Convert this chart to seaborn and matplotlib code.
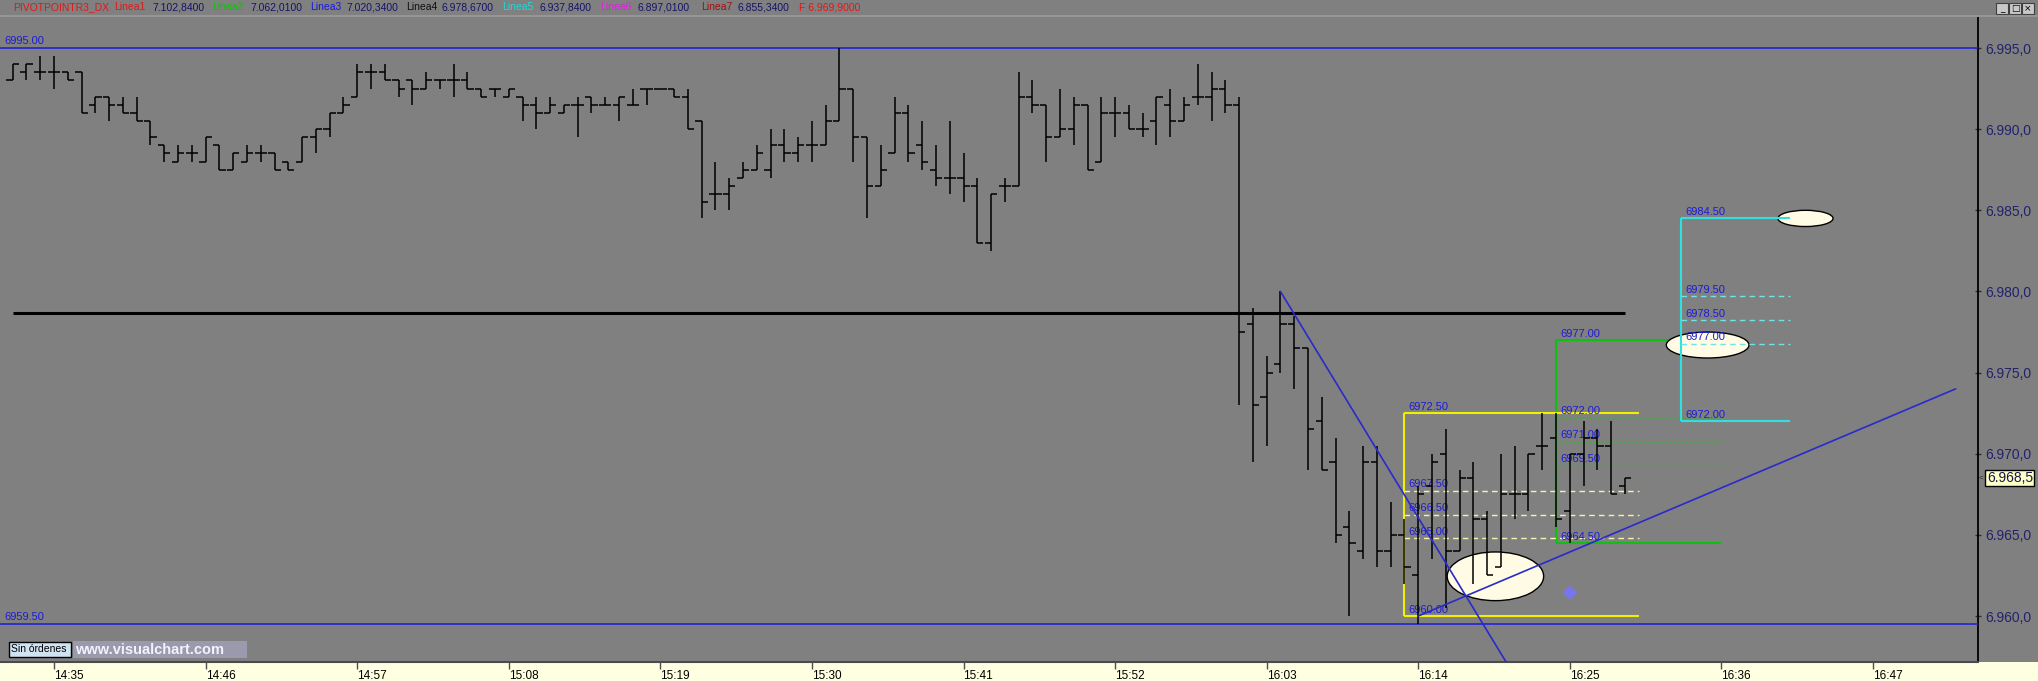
import pandas as pd
import seaborn as sns
import matplotlib.pyplot as plt
import matplotlib.dates as mdates
from matplotlib.patches import Ellipse, Rectangle
from matplotlib.lines import Line2D

# ---- data ---------------------------------------------------------------
first_bar = '2011-01-03 14:32'

bar_open = [6993, 6993.5, 6993.5, 6993.5, 6993.5, 6993.5, 6991.5, 6992, 6991.5, 6991,
            6990.5, 6989, 6988, 6988.5, 6988, 6989, 6987.5, 6988, 6988.5, 6988.5,
            6988, 6988, 6989.5, 6990, 6991, 6992, 6993.5, 6993.5, 6993, 6993,
            6992.5, 6993, 6993, 6993, 6992.5, 6992.5, 6992, 6992, 6991.5, 6991,
            6991, 6991.5, 6992, 6991.5, 6991.5, 6991.5, 6992.5, 6992.5, 6992.5, 6992,
            6990.5, 6986, 6986, 6987, 6987.5, 6987.5, 6989, 6988.5, 6989, 6989,
            6990.5, 6992.5, 6989.5, 6986.5, 6988.5, 6991, 6989, 6987.5, 6987, 6987,
            6986.5, 6983, 6986.5, 6986.5, 6992, 6991.5, 6989.5, 6990, 6991.5, 6988,
            6991, 6991, 6990, 6990.5, 6991.5, 6990.5, 6992, 6992, 6992.5, 6991.5,
            6978, 6973.5, 6975.5, 6978, 6976.5, 6972, 6969.5, 6965.5, 6964, 6969.5,
            6964, 6965, 6962.5, 6968, 6970, 6964, 6968.5, 6966, 6963, 6967.5,
            6967.5, 6970.5, 6971, 6966.5, 6970, 6971, 6970.5, 6968]
bar_high = [6994, 6994, 6994.5, 6994.5, 6993.5, 6993.5, 6992, 6992, 6992, 6992,
            6990.5, 6989, 6989, 6989, 6989.5, 6989, 6988.5, 6989, 6989, 6988.5,
            6988, 6989.5, 6990, 6991, 6992, 6994, 6994, 6994, 6993, 6993,
            6993.5, 6993, 6994, 6993.5, 6992.5, 6992.5, 6992.5, 6992, 6992, 6992,
            6991.5, 6992, 6992, 6992, 6992, 6992.5, 6992.5, 6992.5, 6992.5, 6992.5,
            6990.5, 6988, 6987, 6988, 6989, 6990, 6990, 6989.5, 6990.5, 6991.5,
            6995, 6992.5, 6989.5, 6989, 6992, 6991.5, 6990.5, 6989, 6990.5, 6988.5,
            6987, 6986, 6987, 6993.5, 6993, 6991.5, 6992.5, 6992, 6991.5, 6992,
            6992, 6991.5, 6991, 6992, 6992.5, 6992, 6994, 6993.5, 6993, 6992,
            6979, 6976, 6980, 6978.5, 6976.5, 6973.5, 6971, 6966.5, 6970.5, 6970.5,
            6967, 6966, 6968, 6970, 6971.5, 6969, 6969.5, 6966.5, 6970, 6970.5,
            6970, 6972.5, 6972.5, 6970, 6972, 6971.5, 6972, 6968.5]
bar_low = [6993, 6993, 6993, 6992.5, 6993, 6991, 6991, 6990.5, 6991, 6990.5,
           6989, 6988, 6988, 6988, 6988, 6987.5, 6987.5, 6988, 6988, 6987.5,
           6987.5, 6988, 6988.5, 6989.5, 6991, 6992, 6992.5, 6993, 6992, 6991.5,
           6992.5, 6992.5, 6992, 6992.5, 6992, 6992, 6992, 6990.5, 6990, 6991,
           6991, 6989.5, 6991, 6991.5, 6990.5, 6991.5, 6991.5, 6992.5, 6992, 6990,
           6984.5, 6985, 6985, 6987, 6987.5, 6987, 6988, 6988, 6988, 6989,
           6990.5, 6988, 6984.5, 6986.5, 6988.5, 6988, 6987.5, 6986.5, 6986, 6985.5,
           6983, 6982.5, 6985.5, 6986.5, 6991, 6988, 6989.5, 6989, 6987.5, 6988,
           6989.5, 6990, 6989.5, 6989, 6989.5, 6990.5, 6991.5, 6990.5, 6991, 6973,
           6969.5, 6970.5, 6975, 6974, 6969, 6969, 6964.5, 6960, 6963.5, 6963,
           6963, 6962, 6959.5, 6963.5, 6960.5, 6964, 6962, 6962.5, 6963, 6966,
           6966.5, 6969, 6965.5, 6964.5, 6968, 6969, 6967.5, 6967.5]
bar_close = [6994, 6994, 6993.5, 6993.5, 6993, 6991, 6992, 6991.5, 6991, 6990.5,
             6989.5, 6988.5, 6988.5, 6988.5, 6989.5, 6987.5, 6988.5, 6988.5, 6988.5, 6987.5,
             6987.5, 6989.5, 6990, 6991, 6991.5, 6993.5, 6993.5, 6993, 6992.5, 6992.5,
             6993, 6993, 6993, 6992.5, 6992, 6992.5, 6992.5, 6991.5, 6991, 6991.5,
             6991.5, 6991.5, 6991.5, 6991.5, 6992, 6991.5, 6992.5, 6992.5, 6992, 6990,
             6985.5, 6986, 6986.5, 6987.5, 6988.5, 6989, 6988.5, 6989, 6989, 6990.5,
             6992.5, 6989.5, 6986.5, 6987.5, 6991, 6988.5, 6988, 6987, 6987, 6986.5,
             6983, 6986, 6986.5, 6992, 6991.5, 6989.5, 6990, 6991.5, 6987.5, 6991,
             6991, 6990, 6990, 6992, 6990.5, 6991.5, 6992, 6992.5, 6991.5, 6977.5,
             6973, 6975, 6978, 6976.5, 6971.5, 6969, 6965, 6964.5, 6969.5, 6964,
             6965, 6963, 6967.5, 6969.5, 6964, 6968.5, 6966, 6962.5, 6967.5, 6967.5,
             6970, 6970.5, 6966, 6970, 6971, 6970.5, 6967.5, 6968.5]

tick_labels = ['14:35', '14:46', '14:57', '15:08', '15:19', '15:30', '15:41',
               '15:52', '16:03', '16:14', '16:25', '16:36', '16:47']
price_ticks = [6960, 6965, 6970, 6975, 6980, 6985, 6990, 6995]
last_price = 6968.5

upper_level = 6995.0
lower_level = 6959.5
pivot_level = 6978.67   # Linea4

legend_title = 'PIVOTPOINTR3_DX'
legend_names = ['Linea1', 'Linea2', 'Linea3', 'Linea4', 'Linea5', 'Linea6', 'Linea7']
legend_values = ['7.102,8400', '7.062,0100', '7.020,3400', '6.978,6700',
                 '6.937,8400', '6.897,0100', '6.855,3400']
legend_colors = ['#e01818', '#10c010', '#1818e0', '#101010', '#20d8d8', '#e020e0', '#a01010']
legend_close = 'F 6.969,9000'

# fibonacci boxes: start, end, high, low, inner levels, inner labels
fib_start = ['16:13', '16:24', '16:33:06']
fib_end = ['16:30', '16:36', '16:41']
fib_high = [6972.5, 6977.0, 6984.5]
fib_low = [6960.0, 6964.5, 6972.0]
fib_levels = [[6967.72, 6966.25, 6964.78],
              [6972.22, 6970.75, 6969.28],
              [6979.72, 6978.25, 6976.78]]
fib_labels = [['6967.50', '6966.50', '6965.00'],
              ['6972.00', '6971.00', '6969.50'],
              ['6979.50', '6978.50', '6977.00']]

# trend lines (time, price)
down_line_t = ['16:04', '16:21']
down_line_p = [6980.0, 6956.3]
up_line_t = ['16:14', '16:53']
up_line_p = [6960.0, 6974.0]

# highlight ellipses: centre time, centre price, width (min), height (points)
ell_t = ['16:19:36', '16:35', '16:42:06']
ell_p = [6962.45, 6976.7, 6984.5]
ell_w = [7.0, 6.0, 4.0]
ell_h = [3.0, 1.6, 1.0]

marker_t = '16:25'
marker_p = 6961.45

# ---- helpers ------------------------------------------------------------
W, H = 2038, 681
MIN = 1 / 1440
day = first_bar.split(' ')[0]


def tnum(hhmm):
    return mdates.date2num(pd.Timestamp(day + ' ' + hhmm))


def fx(px):
    return px / W


def fy(py):
    return 1 - py / H


def euro(v):
    return f'{v:,.1f}'.replace(',', 'X').replace('.', ',').replace('X', '.')


sns.set_style('dark')
plt.rcParams['font.family'] = ['Liberation Sans', 'DejaVu Sans']

GRAY = '#808080'
BLUE = '#2424d8'
LBL = '#1c1cd8'

fig = plt.figure(figsize=(W / 100, H / 100), dpi=100)
fig.patch.set_facecolor(GRAY)

# bottom time strip (below the axes so tick labels stay visible)
fig.patches.append(Rectangle((0, 0), 1, 19 / H, transform=fig.transFigure,
                             facecolor='#ffffe1', edgecolor='none', zorder=-5))

ax = fig.add_axes([0, 19 / H, 1978 / W, (662 - 17) / H])
ax.set_facecolor(GRAY)

times = pd.date_range(first_bar, periods=len(bar_open), freq='min')
df = pd.DataFrame({'x': mdates.date2num(times), 'o': bar_open, 'h': bar_high,
                   'l': bar_low, 'c': bar_close})

x0 = tnum('14:35')
ax.set_xlim(x0 - 3.92 * MIN, x0 + 139.62 * MIN)
ax.set_ylim(6957.17, 6996.91)

# OHLC bars
tick_w = 0.45 * MIN
ax.vlines(df['x'], df['l'], df['h'], color='black', lw=1.1, zorder=4)
ax.hlines(df['o'], df['x'] - tick_w, df['x'], color='black', lw=1.1, zorder=4)
ax.hlines(df['c'], df['x'], df['x'] + tick_w, color='black', lw=1.1, zorder=4)

# horizontal reference lines
xl = ax.get_xlim()
for lvl, txt in [(upper_level, '6995.00'), (lower_level, '6959.50')]:
    ax.axhline(lvl, color=BLUE, lw=1.2, zorder=3)
    ax.text(xl[0] + 0.35 * MIN, lvl + 0.12, txt, color=LBL, fontsize=8,
            va='bottom', ha='left', zorder=6)
ax.hlines(pivot_level, tnum('14:32'), tnum('16:29'), color='black', lw=2.2, zorder=3)

# fibonacci boxes
box_colors = ['#f0f000', '#10c010', '#30e0e0']
level_colors = ['#f4f4b0', '#4aa84a', '#70e4e4']
level_styles = [(0, (4, 3)), (0, (1.5, 1.5)), (0, (4, 3))]
box_z = [3, 2.4, 3]
for i in range(3):
    a, b = tnum(fib_start[i]), tnum(fib_end[i])
    c, z = box_colors[i], box_z[i]
    ax.vlines(a, fib_low[i], fib_high[i], color=c, lw=1.5, zorder=z)
    ax.hlines([fib_high[i], fib_low[i]], a, b, color=c, lw=1.5, zorder=z)
    ax.hlines(fib_levels[i], a, b, color=level_colors[i], lw=1.0,
              linestyles=[level_styles[i]], zorder=z)
    labels = [(fib_high[i], f'{fib_high[i]:.2f}'), (fib_low[i], f'{fib_low[i]:.2f}')]
    labels += list(zip(fib_levels[i], fib_labels[i]))
    for lvl, txt in labels:
        ax.text(a + 0.3 * MIN, lvl + 0.08, txt, color=LBL, fontsize=8,
                va='bottom', ha='left', zorder=3.5)

# ellipses
for t, p, w, h in zip(ell_t, ell_p, ell_w, ell_h):
    ax.add_patch(Ellipse((tnum(t), p), w * MIN, h, facecolor='#fffbe4',
                         edgecolor='black', lw=1.0, zorder=2.7))

# trend lines
sns.lineplot(x=[tnum(t) for t in down_line_t], y=down_line_p, ax=ax,
             color='#2a2acc', lw=1.2, zorder=5)
sns.lineplot(x=[tnum(t) for t in up_line_t], y=up_line_p, ax=ax,
             color='#2a2acc', lw=1.2, zorder=5)
sns.scatterplot(x=[tnum(marker_t)], y=[marker_p], ax=ax, marker='D', s=55,
                color='#7676ff', edgecolor='none', alpha=0.85, zorder=5)

# axes styling
for side in ['top', 'left']:
    ax.spines[side].set_visible(False)
ax.spines['right'].set_color('black')
ax.spines['right'].set_linewidth(1.3)
ax.spines['bottom'].set_color('#4a4a4a')
ax.spines['bottom'].set_linewidth(1.5)
ax.grid(False)

ax.yaxis.tick_right()
ax.set_yticks(price_ticks)
ax.set_yticklabels([euro(v) for v in price_ticks])
ax.tick_params(axis='y', right=True, left=False, length=5, width=1, color='#303030',
               direction='inout', pad=3, labelsize=10, labelcolor='#22226e')

ax.set_xticks([tnum(t) for t in tick_labels])
ax.set_xticklabels(tick_labels, ha='left')
ax.tick_params(axis='x', bottom=True, length=5, width=1, color='#505050',
               direction='out', pad=1, labelsize=8.5, labelcolor='black')
ax.set_xlabel('')
ax.set_ylabel('')

# last price box
yl = ax.get_ylim()
py = 17 + (yl[1] - last_price) / (yl[1] - yl[0]) * (662 - 17)
fig.patches.append(Rectangle((fx(1985), fy(py + 8)), 49 / W, 16 / H,
                             transform=fig.transFigure, facecolor='#ffffc8',
                             edgecolor='black', lw=1, zorder=5))
fig.text(fx(1987), fy(py), euro(last_price), fontsize=10, color='#16164a',
         va='center', ha='left', zorder=6)
fig.text(fx(1979), fy(py), '<', fontsize=6, color='#303030', va='center', ha='left')

# top legend line
fig.add_artist(Line2D([0, 1], [fy(16), fy(16)], transform=fig.transFigure,
                      color='#959595', lw=1.5))
name_x = [114, 212, 310, 406, 502, 600, 701]
value_x = [152, 250, 346, 442, 540, 638, 737]
fig.text(fx(13), fy(7), legend_title, fontsize=7.5, color='#e01818', va='center')
for name, val, col, nx, vx in zip(legend_names, legend_values, legend_colors,
                                   name_x, value_x):
    fig.text(fx(nx), fy(7), name, fontsize=7.5, color=col, va='center')
    fig.text(fx(vx), fy(7), val, fontsize=7.5, color='#141468', va='center')
fig.text(fx(799), fy(7), legend_close, fontsize=7.5, color='#f01010', va='center')

# window buttons
for bx, sym in zip([1996, 2009, 2022], ['_', '□', '×']):
    fig.patches.append(Rectangle((fx(bx), fy(14)), 12 / W, 11 / H,
                                 transform=fig.transFigure, facecolor='#c8c8c8',
                                 edgecolor='#404040', lw=0.8))
    fig.text(fx(bx + 6), fy(8.5), sym, fontsize=6.5, color='black',
             ha='center', va='center', family='DejaVu Sans')

# bottom-left badges
fig.patches.append(Rectangle((fx(9), fy(657)), 62 / W, 15 / H,
                             transform=fig.transFigure, facecolor='#cfe3f3',
                             edgecolor='black', lw=1, zorder=5))
fig.text(fx(11), fy(649.5), 'Sin órdenes', fontsize=7.5, color='black',
         va='center', ha='left', zorder=6)
fig.patches.append(Rectangle((fx(73), fy(658)), 174 / W, 17 / H,
                             transform=fig.transFigure, facecolor='#9a9aac',
                             edgecolor='none', zorder=5))
fig.text(fx(75), fy(649.5), 'www.visualchart.com', fontsize=10.5, color='#f2f2ff',
         fontweight='bold', va='center', ha='left', zorder=6)

fig.savefig('out.png', dpi=100, facecolor=fig.get_facecolor())
plt.close(fig)
